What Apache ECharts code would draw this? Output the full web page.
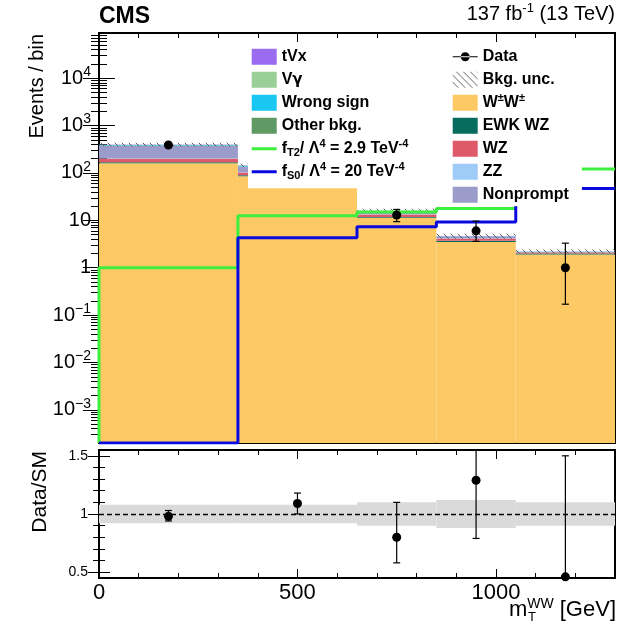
<!DOCTYPE html>
<html>
<head>
<meta charset="utf-8">
<script src="https://cdn.jsdelivr.net/npm/echarts@6/dist/echarts.min.js"></script>
<style>
html, body { margin: 0; padding: 0; background: #fff; }
#chart { width: 631px; height: 626px; }
</style>
</head>
<body>
<div id="chart"></div>
<script>
// bins in m_T^WW [GeV]
var binEdges = [0, 350, 650, 850, 1050, 1300];
var binCenters = [175, 500, 750, 950, 1175];

// stacked backgrounds, events / bin (bottom to top)
var wwVals = [160, 85, 11.3, 3.5, 1.9];
var ewkWzVals = [8, 5, 0.5, 0.2, 0.1];
var wzVals = [32, 12, 1.5, 0.45, 0.12];
var zzVals = [3, 1.5, 0.2, 0.05, 0.02];
var nonpromptVals = [170, 32, 2.0, 0.35, 0.03];
var otherVals = [5, 2, 0.15, 0.04, 0.01];
var wrongSignVals = [12, 4, 0.2, 0.04, 0.01];
var vgammaVals = [6, 2, 0.1, 0.01, 0.01];
var tvxVals = [4, 1.5, 0.05, 0.01, 0.01];
var bkgUncRel = [0.08, 0.08, 0.10, 0.12, 0.10];

// data
var dataVals = [390, 158, 13, 6, 1];
var dataLo = [370, 145, 9.4, 3.6, 0.17];
var dataHi = [410, 171, 17, 9.6, 3.3];

// aQGC signals
var fT2Vals = [1.0, 12.5, 15, 17.8, 122];
var fS0Vals = [0, 4.3, 7.3, 9.2, 47];

// ratio panel
var ratioVals = [0.98, 1.09, 0.80, 1.29, 0.46];
var ratioLo = [0.94, 1.0, 0.58, 0.79, 0.46];
var ratioHi = [1.03, 1.18, 1.10, 1.6, 1.50];

// ticks
var yMajorTicks = [1e-3, 1e-2, 1e-1, 1, 10, 100, 1e3, 1e4];
var xMajorTicks = [0, 500, 1000];
var xMinorTicks = [100, 200, 300, 400, 600, 700, 800, 900, 1100, 1200];
var ratioMajorTicks = [0.5, 1, 1.5];
var ratioMinorTicks = [0.6, 0.7, 0.8, 0.9, 1.1, 1.2, 1.3, 1.4];

var yMin = 2e-4, yMax = 9e4;
var rMin = 0.45, rMax = 1.55;
var FONT = 'Liberation Sans';

var yMinorTicks = [];
for (var e = -4; e <= 4; e++) {
  for (var m = 2; m <= 9; m++) {
    var v = m * Math.pow(10, e);
    if (v > yMin && v < yMax) yMinorTicks.push(v);
  }
}

function hatch(size, color, width) {
  var c = document.createElement('canvas');
  c.width = size; c.height = size;
  var g = c.getContext('2d');
  g.strokeStyle = color;
  g.lineWidth = width;
  g.beginPath();
  g.moveTo(0, 0); g.lineTo(size, size);
  g.moveTo(-2, size - 2); g.lineTo(2, size + 2);
  g.moveTo(size - 2, -2); g.lineTo(size + 2, 2);
  g.stroke();
  return c;
}
var uncPattern = { image: hatch(7, '#606060', 1), repeat: 'repeat' };

var myChart = echarts.init(document.getElementById('chart'));

// running sum for the stack
var lower = binEdges.slice(0, 5).map(function () { return yMin; });
var stackFirst = true;
function stackSeries(name, vals, color) {
  var data = vals.map(function (v, i) {
    var lo = lower[i];
    var hi = (stackFirst ? 0 : lo) + v;
    return [binEdges[i], binEdges[i + 1], lo, hi];
  });
  lower = data.map(function (d) { return d[3]; });
  stackFirst = false;
  return {
    type: 'custom', name: name, xAxisIndex: 0, yAxisIndex: 0, z: 2,
    itemStyle: { color: color },
    encode: { x: [0, 1], y: [2, 3] },
    data: data,
    renderItem: function (params, api) {
      var p0 = api.coord([api.value(0), api.value(3)]);
      var p1 = api.coord([api.value(1), api.value(2)]);
      return { type: 'rect', shape: { x: p0[0], y: p0[1], width: p1[0] - p0[0], height: p1[1] - p0[1] },
        style: { fill: color } };
    }
  };
}

var series = [
  stackSeries('WW', wwVals, '#fdc965'),
  stackSeries('EWK WZ', ewkWzVals, '#076b5e'),
  stackSeries('WZ', wzVals, '#de5a6a'),
  stackSeries('ZZ', zzVals, '#9ecbf7'),
  stackSeries('Nonprompt', nonpromptVals, '#9c9ccb'),
  stackSeries('Other bkg.', otherVals, '#5f9a64'),
  stackSeries('Wrong sign', wrongSignVals, '#1ac6f2'),
  stackSeries('Vγ', vgammaVals, '#9acf98'),
  stackSeries('tVx', tvxVals, '#9b6cf0')
];
var totals = lower.slice();

series.push({
  type: 'custom', name: 'Bkg. unc.', xAxisIndex: 0, yAxisIndex: 0, z: 3,
  itemStyle: { color: uncPattern },
  encode: { x: [0, 1], y: [2, 3] },
  data: totals.map(function (t, i) { return [binEdges[i], binEdges[i + 1], t * (1 - bkgUncRel[i]), t * (1 + bkgUncRel[i])]; }),
  renderItem: function (params, api) {
    var p0 = api.coord([api.value(0), api.value(3)]);
    var p1 = api.coord([api.value(1), api.value(2)]);
    return { type: 'rect', shape: { x: p0[0], y: p0[1], width: p1[0] - p0[0], height: p1[1] - p0[1] },
      style: { fill: uncPattern } };
  }
});

function stepLine(name, vals, color) {
  var pts = [[binEdges[0], yMin]];
  vals.forEach(function (v, i) { pts.push([binEdges[i], Math.max(v, yMin)]); });
  pts.push([binEdges[5], Math.max(vals[4], yMin)]);
  return {
    type: 'line', name: name, step: 'end', xAxisIndex: 0, yAxisIndex: 0, z: 4,
    symbol: 'none', data: pts,
    itemStyle: { color: color }, lineStyle: { color: color, width: 3 }
  };
}
series.push(stepLine('fT2', fT2Vals, '#3df03d'));
series.push(stepLine('fS0', fS0Vals, '#0a0ae0'));

function pointSeries(name, xi, yi, vals, los, his, cut) {
  return {
    type: 'custom', name: name, xAxisIndex: xi, yAxisIndex: yi, z: 5,
    itemStyle: { color: '#000' },
    encode: { x: 0, y: [1, 2, 3] },
    data: vals.map(function (v, i) { return [binCenters[i], v, los[i], his[i]]; }),
    renderItem: function (params, api) {
      var hiVal = api.value(3), capTop = true;
      if (cut && hiVal > cut) { hiVal = cut; capTop = false; }
      var c = api.coord([api.value(0), api.value(1)]);
      var lo = api.coord([api.value(0), api.value(2)]);
      var hi = api.coord([api.value(0), hiVal]);
      var kids = [
        { type: 'line', shape: { x1: c[0], y1: lo[1], x2: c[0], y2: hi[1] }, style: { stroke: '#000', lineWidth: 1.2 } },
        { type: 'line', shape: { x1: c[0] - 3.5, y1: lo[1], x2: c[0] + 3.5, y2: lo[1] }, style: { stroke: '#000', lineWidth: 1.2 } },
        { type: 'circle', shape: { cx: c[0], cy: c[1], r: 4.5 }, style: { fill: '#000' } }
      ];
      if (capTop) kids.push({ type: 'line', shape: { x1: c[0] - 3.5, y1: hi[1], x2: c[0] + 3.5, y2: hi[1] }, style: { stroke: '#000', lineWidth: 1.2 } });
      return { type: 'group', children: kids };
    }
  };
}
series.push(pointSeries('Data', 0, 0, dataVals, dataLo, dataHi, null));

// ratio panel
series.push({
  type: 'custom', name: 'ratioUnc', xAxisIndex: 4, yAxisIndex: 4, z: 2,
  encode: { x: [0, 1], y: [2, 3] },
  data: bkgUncRel.map(function (u, i) { return [binEdges[i], binEdges[i + 1], 1 - u, 1 + u]; }),
  renderItem: function (params, api) {
    var p0 = api.coord([api.value(0), api.value(3)]);
    var p1 = api.coord([api.value(1), api.value(2)]);
    return { type: 'rect', shape: { x: p0[0], y: p0[1], width: p1[0] - p0[0], height: p1[1] - p0[1] },
      style: { fill: '#dadada' } };
  },
  markLine: {
    silent: true, symbol: 'none', label: { show: false },
    lineStyle: { color: '#000', type: [5, 3], width: 1.3 },
    data: [{ yAxis: 1 }]
  }
});
series.push(pointSeries('ratio', 4, 4, ratioVals, ratioLo, ratioHi, rMax));

function xAx(grid, pos, ticks, len, labels) {
  return {
    type: 'value', gridIndex: grid, position: pos, min: 0, max: 1300,
    axisLine: { show: false }, splitLine: { show: false },
    axisTick: { show: true, inside: true, length: len, customValues: ticks, lineStyle: { color: '#000', width: 1 } },
    axisLabel: labels ? {
      show: true, customValues: ticks, margin: 4, color: '#000', fontFamily: FONT, fontSize: 22,
      formatter: function (v) { return String(v); }
    } : { show: false }
  };
}
function yRatio(pos, ticks, len, labels) {
  return {
    type: 'value', gridIndex: 1, position: pos, min: rMin, max: rMax,
    axisLine: { show: false }, splitLine: { show: false },
    axisTick: { show: true, inside: true, length: len, customValues: ticks, lineStyle: { color: '#000', width: 1 } },
    axisLabel: labels ? { show: true, customValues: ticks, margin: 11, color: '#000', fontFamily: FONT, fontSize: 14 } : { show: false }
  };
}
function yLog(pos, ticks, len, labels) {
  return {
    type: 'log', logBase: 10, gridIndex: 0, position: pos, min: yMin, max: yMax,
    axisLine: { show: false }, splitLine: { show: false },
    axisTick: { show: true, inside: true, length: len, customValues: ticks, lineStyle: { color: '#000', width: 1 } },
    axisLabel: labels ? {
      show: true, customValues: ticks, margin: 8,
      formatter: function (v) {
        var p = Math.round(Math.log10(v));
        if (p === 0) return '{n|1}';
        if (p === 1) return '{n|10}';
        return '{n|10}{s|' + (p < 0 ? '\u2212' + (-p) : p) + '}';
      },
      rich: {
        n: { fontFamily: FONT, fontSize: 20, color: '#000' },
        s: { fontFamily: FONT, fontSize: 14, color: '#000', padding: [0, 0, 12, 0] }
      }
    } : { show: false }
  };
}

var legendText = {
  'tVx': '{b|tVx}',
  'Vγ': '{b|V}{g|γ}',
  'Wrong sign': '{b|Wrong sign}',
  'Other bkg.': '{b|Other bkg.}',
  'fT2': '{b|f}{sub|T2}{b|/ Λ}{sup|4}{b| = 2.9 TeV}{sup|-4}',
  'fS0': '{b|f}{sub|S0}{b|/ Λ}{sup|4}{b| = 20 TeV}{sup|-4}',
  'Data': '{b|Data}',
  'Bkg. unc.': '{b|Bkg. unc.}',
  'WW': '{b|W}{sup|±}{b|W}{sup|±}',
  'EWK WZ': '{b|EWK WZ}',
  'WZ': '{b|WZ}',
  'ZZ': '{b|ZZ}',
  'Nonprompt': '{b|Nonprompt}'
};
var legendRich = {
  b: { fontFamily: FONT, fontWeight: 'bold', fontSize: 16, color: '#000' },
  g: { fontFamily: 'DejaVu Sans', fontWeight: 'bold', fontSize: 15, color: '#000' },
  sup: { fontFamily: FONT, fontWeight: 'bold', fontSize: 11, color: '#000', padding: [0, 0, 10, 0] },
  sub: { fontFamily: FONT, fontWeight: 'bold', fontSize: 11, color: '#000', padding: [9, 0, 0, 0] }
};
// icons are 25x23 boxes, the visible mark sits in the middle; corner specks keep the box size
var specks = ' M0,0h0.01v0.01h-0.01z M24.99,22.99h0.01v0.01h-0.01z';
var boxIcon = 'path://M0,3.5h25v16h-25z' + specks;
var lineIcon = 'path://M0,10h25v3h-25z' + specks;
var dataIcon = 'path://M0,11h25v1h-25z M8,11.5a4.5,4.5 0 1,0 9,0a4.5,4.5 0 1,0 -9,0z' + specks;
function legendBox(left, padding, names) {
  return {
    orient: 'vertical', left: left, top: 42, padding: padding, itemGap: 0,
    itemWidth: 25, itemHeight: 23, selectedMode: false, z: 10,
    backgroundColor: '#fff',
    data: names.map(function (n) {
      var d = { name: n, icon: boxIcon };
      if (n === 'fT2' || n === 'fS0') d.icon = lineIcon;
      if (n === 'Data') d.icon = dataIcon;
      return d;
    }),
    formatter: function (n) { return legendText[n]; },
    textStyle: { rich: legendRich }
  };
}

myChart.setOption({
  animation: false,
  backgroundColor: '#fff',
  grid: [
    { left: 99, top: 33, width: 516, height: 410, show: true, borderColor: '#000', borderWidth: 2, backgroundColor: 'transparent', outerBoundsMode: 'none' },
    { left: 99, top: 450, width: 516, height: 128, show: true, borderColor: '#000', borderWidth: 2, backgroundColor: 'transparent', outerBoundsMode: 'none' }
  ],
  xAxis: [
    xAx(0, 'bottom', xMajorTicks, 10, false),
    xAx(0, 'bottom', xMinorTicks, 5, false),
    xAx(0, 'top', xMajorTicks, 10, false),
    xAx(0, 'top', xMinorTicks, 5, false),
    xAx(1, 'bottom', xMajorTicks, 9, true),
    xAx(1, 'bottom', xMinorTicks, 5, false),
    xAx(1, 'top', xMajorTicks, 9, false),
    xAx(1, 'top', xMinorTicks, 5, false)
  ],
  yAxis: [
    yLog('left', yMajorTicks, 16, true),
    yLog('left', yMinorTicks, 8, false),
    yLog('right', yMajorTicks, 16, false),
    yLog('right', yMinorTicks, 8, false),
    yRatio('left', ratioMajorTicks, 11, true),
    yRatio('left', ratioMinorTicks, 6, false),
    yRatio('right', ratioMajorTicks, 11, false),
    yRatio('right', ratioMinorTicks, 6, false)
  ],
  legend: [
    legendBox(248, [3.2, 40, 5, 3.7], ['tVx', 'Vγ', 'Wrong sign', 'Other bkg.', 'fT2', 'fS0']),
    legendBox(449.7, [3.2, 13, 0, 3], ['Data', 'Bkg. unc.', 'WW', 'EWK WZ', 'WZ', 'ZZ', 'Nonprompt'])
  ],
  graphic: [
    { type: 'text', left: 99, top: 5, style: { text: 'CMS', font: 'bold 23px ' + FONT, fill: '#000' } },
    { type: 'text', x: 615, y: 14, style: {
      text: '{n|137 fb}{s|-1}{n| (13 TeV)}', align: 'right', verticalAlign: 'middle',
      rich: { n: { fontFamily: FONT, fontSize: 20, color: '#000' }, s: { fontFamily: FONT, fontSize: 13, color: '#000', padding: [0, 0, 11, 0] } }
    } },
    { type: 'text', x: 37, y: 34, rotation: Math.PI / 2, style: { text: 'Events / bin', font: '20px ' + FONT, fill: '#000', align: 'right', verticalAlign: 'middle' } },
    { type: 'text', x: 40, y: 451, rotation: Math.PI / 2, style: { text: 'Data/SM', font: '21px ' + FONT, fill: '#000', align: 'right', verticalAlign: 'middle' } },
    { type: 'text', x: 616, y: 610, style: {
      text: '{n|m}{s|WW}{n| [GeV]}', align: 'right', verticalAlign: 'middle',
      rich: { n: { fontFamily: FONT, fontSize: 22, color: '#000' }, s: { fontFamily: FONT, fontSize: 14, color: '#000', padding: [0, 0, 12, 0] } }
    } },
    { type: 'text', x: 528, y: 617, style: { text: 'T', font: '13px ' + FONT, fill: '#000', verticalAlign: 'middle' } }
  ],
  series: series
});
</script>
</body>
</html>
